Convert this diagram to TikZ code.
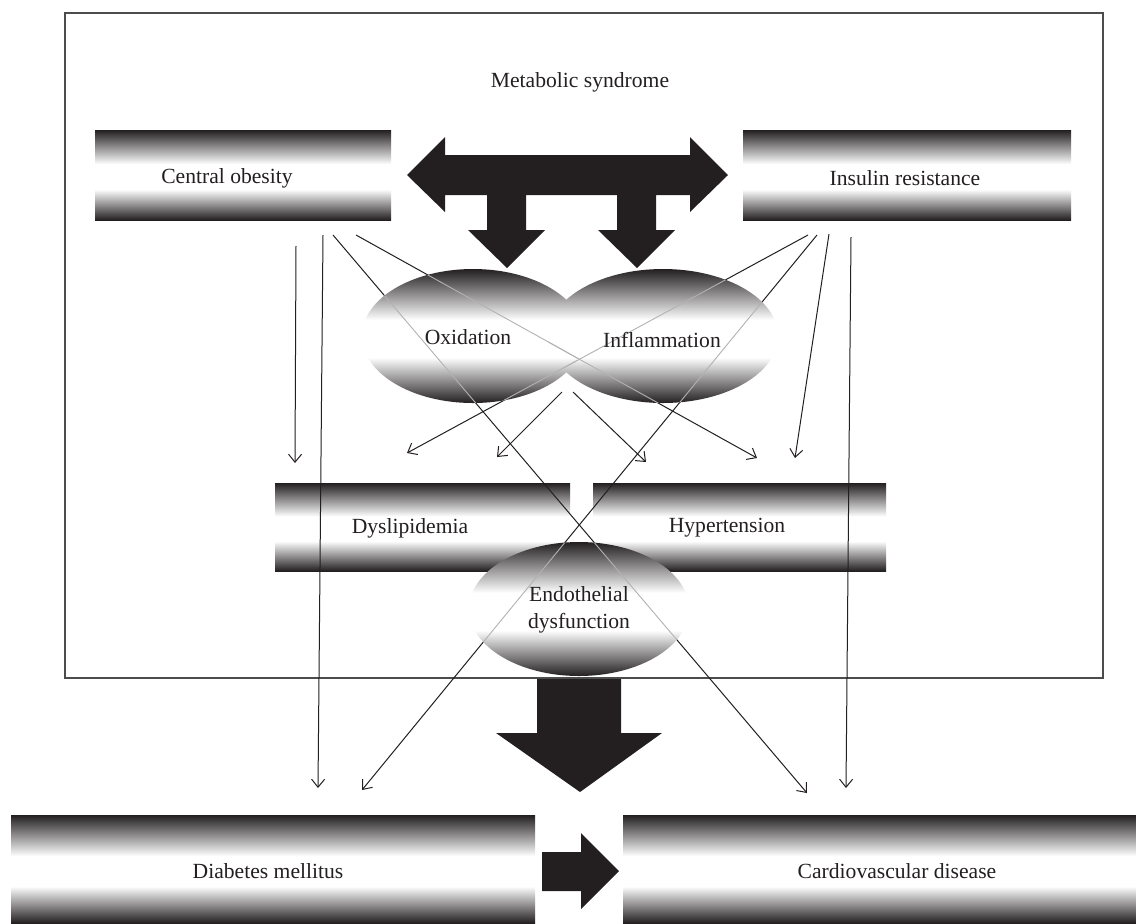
\documentclass[tikz,border=0pt]{standalone}
\usepackage{fontspec}
\setmainfont{Liberation Serif}
\usetikzlibrary{arrows.meta,shapes.geometric}
\definecolor{dk}{RGB}{35,31,32}
\pgfdeclareverticalshading{band}{100bp}{color(0bp)=(dk); color(25bp)=(dk); color(42bp)=(white); color(56bp)=(white); color(75bp)=(dk); color(100bp)=(dk)}
\newcommand\myconnectors[2]{%
  \draw[#1,#2] (a1) -- (a2);
  \draw[#1,#2] (b1) -- (b2);
  \draw[#1,#2] (c1) -- (c2);
  \draw[#1,#2] (d1) -- (d2);
  \draw[#1,#2] (e1) -- (e2);
  \draw[#1,#2] (f1) -- (f2);
  \draw[#1,#2] (g1) -- (g2);
  \draw[#1,#2] (h1) -- (h2);
  \draw[#1,#2] (i1) -- (i2);
  \draw[#1,#2] (j1) -- (j2);
}
\begin{document}
\begin{tikzpicture}[x=0.5pt,y=-0.5pt,
  bar/.style={rectangle, shading=band, inner sep=0pt, outer sep=0pt},
  blob/.style={ellipse, shading=band, inner sep=0pt, outer sep=0pt},
  lbl/.style={font=\fontsize{10.8}{13.2}\selectfont, text=dk, align=center, inner sep=0pt},
  conn/.style={line width=0.5pt, draw=dk},
  tipped/.style={-{Straight Barb[length=4pt,width=6.5pt]}},
  ghost/.style={line width=0.45pt, draw=black!30},
  frame/.style={line width=0.8pt, draw=black!70},
  bigarrow/.style={fill=dk}
]
\useasboundingbox (0,0) rectangle (1136,923);

% frame
\draw[frame] (65,13) rectangle (1103,678);

% boxes
\node (co) [bar, minimum width=148pt, minimum height=45pt] at (243,175) {};
\node (ir) [bar, minimum width=164pt, minimum height=45pt] at (907,175) {};
\node (dy) [bar, minimum width=147.5pt, minimum height=44pt] at (422.5,527) {};
\node (ht) [bar, minimum width=146.5pt, minimum height=44pt] at (739.5,527) {};
\node (dm) [bar, minimum width=262pt, minimum height=54pt] at (273,869) {};
\node (cv) [bar, minimum width=256.5pt, minimum height=54pt] at (879.5,869) {};

% connector end points
\coordinate (a1) at (296,246); \coordinate (a2) at (295,463);
\coordinate (b1) at (323,235); \coordinate (b2) at (318,788);
\coordinate (c1) at (333,235); \coordinate (c2) at (807,793);
\coordinate (d1) at (356,235); \coordinate (d2) at (757,458);
\coordinate (e1) at (808,235); \coordinate (e2) at (407,453);
\coordinate (f1) at (817,235); \coordinate (f2) at (362,790);
\coordinate (g1) at (829,234); \coordinate (g2) at (795,458);
\coordinate (h1) at (851,237); \coordinate (h2) at (846,788);
\coordinate (i1) at (562,392); \coordinate (i2) at (497,457);
\coordinate (j1) at (573,392); \coordinate (j2) at (646,462);

\myconnectors{conn}{tipped}

% ellipses
\node (ox) [blob, minimum width=111pt, minimum height=67pt] at (473,336) {};
\node (inf) [blob, minimum width=115pt, minimum height=67pt] at (663,336) {};
\node (en) [blob, minimum width=110pt, minimum height=67pt] at (579,609) {};

% faint connectors seen through the ellipses
\begin{scope}
  \clip (473,336) ellipse [x radius=111, y radius=67];
  \myconnectors{ghost}{}
\end{scope}
\begin{scope}
  \clip (663,336) ellipse [x radius=115, y radius=67];
  \myconnectors{ghost}{}
\end{scope}
\begin{scope}
  \clip (579,609) ellipse [x radius=110, y radius=67];
  \myconnectors{ghost}{}
\end{scope}

% T-shaped double arrow
\fill[bigarrow] (407,175) -- (445,137) -- (445,155) -- (690,155) -- (690,137) -- (728,175)
  -- (690,212) -- (690,195) -- (656,195) -- (656,230) -- (675,230) -- (637,268)
  -- (598,230) -- (617,230) -- (617,195) -- (526,195) -- (526,230) -- (545,230)
  -- (507,268) -- (468,230) -- (487,230) -- (487,195) -- (445,195) -- (445,212) -- cycle;

% big down arrow
\fill[bigarrow] (537,679) -- (621,679) -- (621,733) -- (662,733) -- (580,792)
  -- (496,733) -- (537,733) -- cycle;

% small right arrow
\fill[bigarrow] (542,852) -- (581,852) -- (581,833) -- (619,871) -- (581,909)
  -- (581,891) -- (542,891) -- cycle;

% labels
\node (tms) [lbl] at (580,82) {Metabolic syndrome};
\node (tco) [lbl] at (227,178) {Central obesity};
\node (tir) [lbl] at (905,178) {Insulin resistance};
\node (tox) [lbl] at (468,337) {Oxidation};
\node (tinf) [lbl] at (662,340) {Inflammation};
\node (tdy) [lbl] at (410,528) {Dyslipidemia};
\node (tht) [lbl] at (727,528) {Hypertension};
\node (ten) [lbl] at (579,610) {Endothelial\\dysfunction};
\node (tdm) [lbl] at (268,871) {Diabetes mellitus};
\node (tcv) [lbl] at (897,871) {Cardiovascular disease};
\end{tikzpicture}
\end{document}
